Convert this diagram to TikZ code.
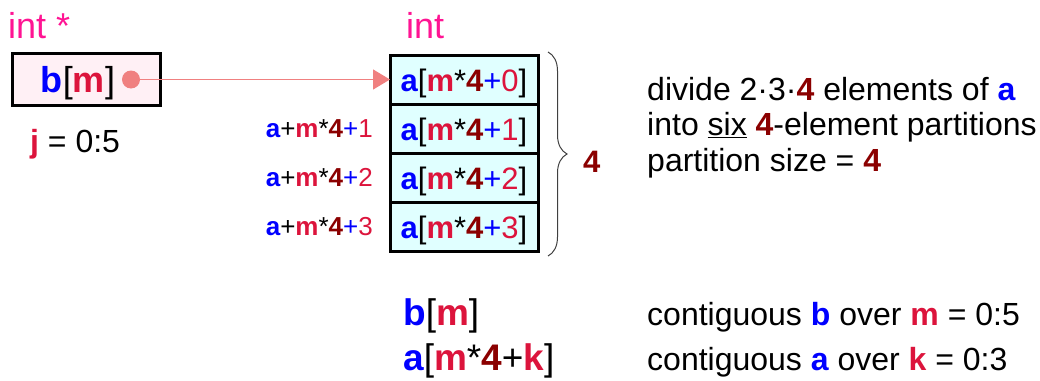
\documentclass[tikz,border=0pt]{standalone}
\usepackage{fontspec}
\setmainfont{Liberation Sans}
\usetikzlibrary{arrows.meta,positioning,decorations.pathreplacing}

\definecolor{typepink}{RGB}{255,20,147}
\definecolor{idxblue}{RGB}{0,0,255}
\definecolor{idxred}{RGB}{220,20,60}
\definecolor{sizered}{RGB}{139,0,0}
\definecolor{ptrdot}{RGB}{240,128,128}
\definecolor{ptrfill}{RGB}{255,240,245}
\definecolor{cellfill}{RGB}{224,255,255}

% coloured pieces of the index expressions
\newcommand{\bblu}[1]{\textcolor{idxblue}{\bfseries #1}}
\newcommand{\blu}[1]{\textcolor{idxblue}{#1}}
\newcommand{\bcrim}[1]{\textcolor{idxred}{\bfseries #1}}
\newcommand{\crim}[1]{\textcolor{idxred}{#1}}
\newcommand{\bsize}[1]{\textcolor{sizered}{\bfseries #1}}
\newcommand{\cellexpr}[1]{\bblu{a}[\bcrim{m}*\bsize{4}\blu{+}\crim{#1}]}
\newcommand{\addrexpr}[1]{\bblu{a}+\bcrim{m}*\bsize{4}\blu{+}\crim{#1}}

\begin{document}
\begin{tikzpicture}[
  x=1pt, y=-1pt,
  typelabel/.style={inner sep=0pt, anchor=base west, text=typepink, font=\fontsize{36}{40}\selectfont},
  ptrbox/.style={rectangle, draw, line width=3pt, fill=ptrfill, minimum width=148pt, minimum height=52pt, outer sep=0pt},
  ptrtext/.style={inner sep=0pt, text height=25pt, text depth=0pt, font=\fontsize{36}{40}\selectfont},
  ptrdotnode/.style={circle, fill=ptrdot, minimum size=18pt, inner sep=0pt},
  ptrarrow/.style={draw=ptrdot, line width=1.5pt, -{Triangle[length=17pt,width=20pt]}},
  cell/.style={rectangle, draw, line width=3pt, fill=cellfill, minimum width=148pt, minimum height=49pt,
    outer sep=0pt, inner sep=0pt, text height=24pt, text depth=0pt, font=\fontsize{31}{35}\selectfont},
  addrlabel/.style={inner sep=0pt, font=\fontsize{26}{30}\selectfont},
  bracestyle/.style={draw=black!75, line width=1pt, decorate, decoration={brace, amplitude=19pt}},
  note/.style={inner sep=0pt, anchor=base west, align=left, font=\fontsize{32}{35.5}\selectfont},
  bigexpr/.style={inner sep=0pt, anchor=base west, font=\fontsize{37}{40}\selectfont}
]
  \useasboundingbox (0,0) rectangle (1040,380);

  % pointer b
  \node[typelabel] (ptrtype) at (8,38) {int *};
  \node[ptrbox] (bbox) at (86,79.5) {};
  \node[ptrtext] (btext) at (78,79.5) {\bblu{b}[\bcrim{m}]};
  \node[ptrdotnode] (bdot) at (131,79.5) {};
  \node[note] (jrange) at (30,152) {\bcrim{j} = 0:5};

  % array a, one partition
  \node[typelabel] (arrtype) at (406,38) {int};
  \node[cell] (a0) at (464,79.5) {\cellexpr{0}};
  \node[cell, below=0pt of a0] (a1) {\cellexpr{1}};
  \node[cell, below=0pt of a1] (a2) {\cellexpr{2}};
  \node[cell, below=0pt of a2] (a3) {\cellexpr{3}};

  \node[addrlabel, left=17pt of a1] (p1) {\addrexpr{1}};
  \node[addrlabel, left=17pt of a2] (p2) {\addrexpr{2}};
  \node[addrlabel, left=17pt of a3] (p3) {\addrexpr{3}};

  \draw[ptrarrow] (bdot) -- (a0.west);

  \draw[bracestyle] ([xshift=10pt,yshift=3pt]a0.north east) -- ([xshift=10pt,yshift=-5pt]a3.south east);
  \node[note, font=\fontsize{31}{35}\selectfont\bfseries, text=sizered] (psize) at (583,172) {4};

  % notes
  \node[note] (divnote) at (647,171) {divide 2·3·\bsize{4} elements of \bblu{a}\\
    into \underline{six} \bsize{4}-element partitions\\
    partition size = \bsize{4}};

  \node[bigexpr] (bexpr) at (403,325) {\bblu{b}[\bcrim{m}]};
  \node[bigexpr] (aexpr) at (403,370) {\bblu{a}[\bcrim{m}*\bsize{4}+\bcrim{k}]};
  \node[note] (bnote) at (647,325) {contiguous \bblu{b} over \bcrim{m} = 0:5};
  \node[note] (anote) at (647,370) {contiguous \bblu{a} over \bcrim{k} = 0:3};
\end{tikzpicture}
\end{document}
